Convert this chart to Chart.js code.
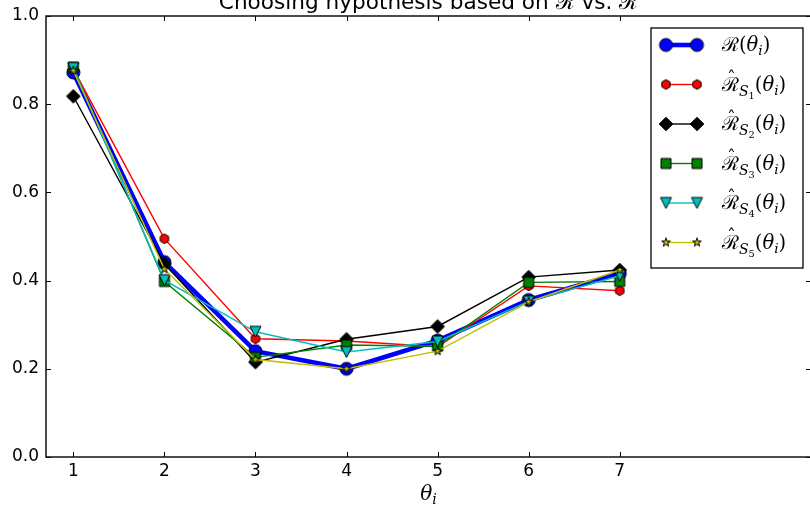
<!DOCTYPE html>
<html lang="en">
<head>
<meta charset="UTF-8">
<title>Choosing hypothesis</title>
<script src="https://cdn.jsdelivr.net/npm/chart.js"></script>
<style>
  html, body { margin: 0; padding: 0; background: #ffffff; overflow: hidden; }
  #wrap { width: 820px; height: 507px; }
</style>
</head>
<body>
<div id="wrap"><canvas id="riskChart" width="820" height="507"></canvas></div>
<script>
// hypotheses theta_1 .. theta_7 and their risks
const thetas = [1, 2, 3, 4, 5, 6, 7];
const thetaLabels = ['1', '2', '3', '4', '5', '6', '7'];
const yTicks = [0.0, 0.2, 0.4, 0.6, 0.8, 1.0];

const riskTrue = [0.872, 0.442, 0.240, 0.200, 0.264, 0.356, 0.416];
const riskS1 = [0.880, 0.495, 0.268, 0.263, 0.250, 0.388, 0.377];
const riskS2 = [0.818, 0.438, 0.215, 0.267, 0.296, 0.408, 0.424];
const riskS3 = [0.884, 0.398, 0.226, 0.254, 0.251, 0.396, 0.398];
const riskS4 = [0.882, 0.401, 0.284, 0.238, 0.262, 0.353, 0.411];
const riskS5 = [0.876, 0.426, 0.221, 0.200, 0.240, 0.352, 0.424];

const series = [
  { data: riskTrue, color: '#0000ff', shape: 'circle', r: 6.5, lw: 4.6, hat: false, sub: null },
  { data: riskS1, color: '#ff0000', shape: 'hexagon', r: 4.8, lw: 1.4, hat: true, sub: '1' },
  { data: riskS2, color: '#000000', shape: 'diamond', r: 6.8, lw: 1.4, hat: true, sub: '2' },
  { data: riskS3, color: '#008000', shape: 'square', r: 5, lw: 1.4, hat: true, sub: '3' },
  { data: riskS4, color: '#00bfbf', shape: 'triangleDown', r: 5.5, lw: 1.4, hat: true, sub: '4' },
  { data: riskS5, color: '#bfbf00', shape: 'star', r: 4.6, lw: 1.4, hat: true, sub: '5' }
];

const SANS = '"DejaVu Sans", sans-serif';
const SERIF = '"DejaVu Serif", serif';

// marker bitmaps, black edged like matplotlib's classic style
function markerCanvas(shape, r, fill) {
  const s = Math.ceil(2 * r + 4);
  const c = document.createElement('canvas');
  c.width = s; c.height = s;
  const g = c.getContext('2d');
  const m = s / 2;
  g.beginPath();
  if (shape === 'circle') {
    g.arc(m, m, r, 0, Math.PI * 2);
  } else if (shape === 'hexagon') {
    for (let k = 0; k < 6; k++) {
      const a = -Math.PI / 2 + k * Math.PI / 3;
      g.lineTo(m + r * Math.cos(a), m + r * Math.sin(a));
    }
  } else if (shape === 'diamond') {
    g.moveTo(m, m - r); g.lineTo(m + r, m); g.lineTo(m, m + r); g.lineTo(m - r, m);
  } else if (shape === 'square') {
    g.rect(m - r, m - r, 2 * r, 2 * r);
  } else if (shape === 'triangleDown') {
    g.moveTo(m - r, m - r); g.lineTo(m + r, m - r); g.lineTo(m, m + r);
  } else if (shape === 'star') {
    for (let k = 0; k < 10; k++) {
      const a = -Math.PI / 2 + k * Math.PI / 5;
      const rr = k % 2 ? r * 0.382 : r;
      g.lineTo(m + rr * Math.cos(a), m + rr * Math.sin(a));
    }
  }
  g.closePath();
  g.fillStyle = fill;
  g.fill();
  g.lineWidth = 1;
  g.strokeStyle = '#000000';
  g.stroke();
  return c;
}

series.forEach(s => { s.marker = markerCanvas(s.shape, s.r, s.color); });

// small mathtext helper: runs of text with size scale and baseline shift
function riskRuns(hat, sub) {
  const runs = [{ t: '\u211B', hat: hat }];
  if (sub) {
    runs.push({ t: 'S', it: true, s: 0.72, dy: 0.28 });
    runs.push({ t: sub, s: 0.5, dy: 0.42 });
  }
  return runs;
}
function thetaRuns() {
  return [{ t: '(' }, { t: '\u03B8', it: true }, { t: 'i', it: true, s: 0.7, dy: 0.22 }, { t: ')' }];
}
function runFont(run, size) {
  const fam = run.sans ? SANS : SERIF;
  return (run.it ? 'italic ' : '') + (size * (run.s || 1)).toFixed(1) + 'px ' + fam;
}
function runsWidth(ctx, runs, size) {
  let w = 0;
  runs.forEach(r => { ctx.font = runFont(r, size); w += ctx.measureText(r.t).width; });
  return w;
}
function drawRuns(ctx, runs, x, y, size) {
  ctx.textAlign = 'left';
  ctx.textBaseline = 'alphabetic';
  ctx.fillStyle = '#000000';
  runs.forEach(r => {
    ctx.font = runFont(r, size);
    const w = ctx.measureText(r.t).width;
    ctx.fillText(r.t, x, y + (r.dy || 0) * size);
    if (r.hat) {
      ctx.font = (size * 0.9).toFixed(1) + 'px ' + SERIF;
      ctx.textAlign = 'center';
      ctx.fillText('\u02C6', x + w * 0.55, y - size * 0.28);
      ctx.textAlign = 'left';
    }
    x += w;
  });
  return x;
}

// axes box with inward ticks on all four sides
const framePlugin = {
  id: 'frame',
  afterDatasetsDraw(chart) {
    const { ctx, chartArea: a, scales } = chart;
    ctx.save();
    ctx.strokeStyle = '#000000';
    ctx.lineWidth = 1;
    const tl = 5;
    scales.x.ticks.forEach(t => {
      const px = Math.round(scales.x.getPixelForValue(t.value)) + 0.5;
      ctx.beginPath();
      ctx.moveTo(px, a.top); ctx.lineTo(px, a.top + tl);
      ctx.moveTo(px, a.bottom); ctx.lineTo(px, a.bottom - tl);
      ctx.stroke();
    });
    scales.y.ticks.forEach(t => {
      const py = Math.round(scales.y.getPixelForValue(t.value)) + 0.5;
      ctx.beginPath();
      ctx.moveTo(a.left, py); ctx.lineTo(a.left + tl, py);
      ctx.moveTo(a.right, py); ctx.lineTo(a.right - tl, py);
      ctx.stroke();
    });
    ctx.lineWidth = 1.5;
    ctx.strokeStyle = '#111111';
    ctx.strokeRect(a.left, a.top, a.right - a.left, a.bottom - a.top);
    ctx.restore();
  }
};

// title and x axis label
const textPlugin = {
  id: 'mathText',
  afterDraw(chart) {
    const { ctx, chartArea: a } = chart;
    const cx = (a.left + a.right) / 2;
    ctx.save();
    const ts = 21.6;
    const title = [{ t: 'Choosing hypothesis based on ', sans: true }]
      .concat(riskRuns(true, null))
      .concat([{ t: ' vs. ', sans: true }])
      .concat(riskRuns(false, null));
    const tw = runsWidth(ctx, title, ts);
    drawRuns(ctx, title, cx - tw / 2, 9, ts);

    const xl = [{ t: '\u03B8', it: true }, { t: 'i', it: true, s: 0.7, dy: 0.22 }];
    const xs = 20;
    const xw = runsWidth(ctx, xl, xs);
    drawRuns(ctx, xl, cx - xw / 2, 500, xs);
    ctx.restore();
  }
};

// boxed legend in the upper right corner
const legendPlugin = {
  id: 'mathLegend',
  afterDraw(chart) {
    const { ctx } = chart;
    const box = { x: 651, y: 28, w: 152, h: 240 };
    ctx.save();
    ctx.fillStyle = '#ffffff';
    ctx.fillRect(box.x, box.y, box.w, box.h);
    ctx.strokeStyle = '#000000';
    ctx.lineWidth = 1.3;
    ctx.strokeRect(box.x, box.y, box.w, box.h);
    series.forEach((s, i) => {
      const y = 45 + i * 39.5;
      const x0 = 666, x1 = 697;
      ctx.strokeStyle = s.color;
      ctx.lineWidth = s.lw;
      ctx.beginPath();
      ctx.moveTo(x0, y); ctx.lineTo(x1, y);
      ctx.stroke();
      [x0, x1].forEach(x => ctx.drawImage(s.marker, x - s.marker.width / 2, y - s.marker.height / 2));
      const runs = riskRuns(s.hat, s.sub).concat(thetaRuns());
      drawRuns(ctx, runs, 722, y + 6, 19.5);
    });
    ctx.restore();
  }
};

const datasets = series.map((s, i) => ({
  label: 'series ' + i,
  data: thetas.map((t, k) => ({ x: t, y: s.data[k] })),
  borderColor: s.color,
  backgroundColor: s.color,
  borderWidth: s.lw,
  pointStyle: s.marker,
  pointRadius: s.r,
  tension: 0,
  fill: false,
  order: series.length - i
}));

new Chart(document.getElementById('riskChart'), {
  type: 'line',
  data: { datasets: datasets },
  options: {
    responsive: false,
    animation: false,
    events: [],
    layout: { autoPadding: false, padding: { left: 0, right: 9, top: 16, bottom: 0 } },
    plugins: { legend: { display: false }, title: { display: false }, tooltip: { enabled: false } },
    scales: {
      x: {
        type: 'linear',
        min: 0.7,
        max: 9.1,
        grid: { display: false, drawTicks: false },
        border: { display: false },
        afterBuildTicks: scale => { scale.ticks = thetas.map(v => ({ value: v })); },
        afterFit: scale => {
          scale.height = 50;
          scale.paddingLeft = 0;
          scale.paddingRight = 0;
        },
        ticks: {
          padding: 4,
          color: '#000000',
          font: { family: SANS, size: 17 },
          callback: (v) => thetaLabels[thetas.indexOf(v)]
        }
      },
      y: {
        min: 0,
        max: 1,
        grid: { display: false, drawTicks: false },
        border: { display: false },
        afterBuildTicks: scale => { scale.ticks = yTicks.map(v => ({ value: v })); },
        afterFit: scale => {
          scale.width = 46;
          scale.paddingTop = 0;
          scale.paddingBottom = 0;
        },
        ticks: {
          padding: 7,
          color: '#000000',
          font: { family: SANS, size: 17 },
          callback: v => v.toFixed(1)
        }
      }
    }
  },
  plugins: [framePlugin, textPlugin, legendPlugin]
});
</script>
</body>
</html>
